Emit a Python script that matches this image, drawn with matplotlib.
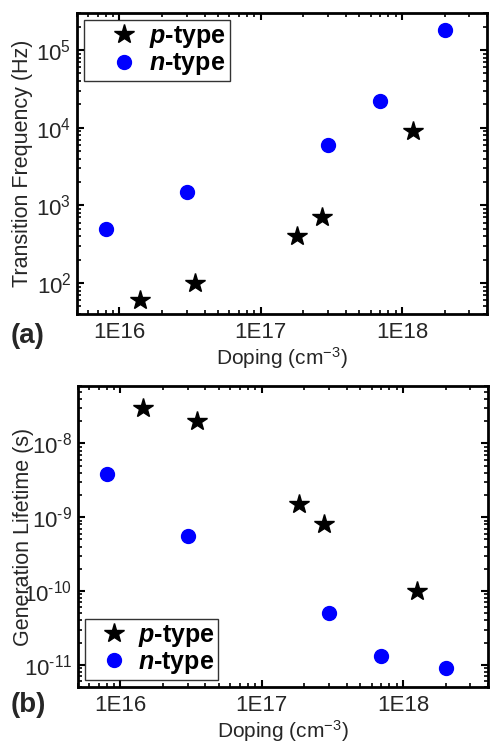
import numpy as np
import matplotlib
matplotlib.use("Agg")
import matplotlib.pyplot as plt
from matplotlib.ticker import LogLocator, NullFormatter, FuncFormatter

plt.rcParams['font.family'] = ['Liberation Sans', 'DejaVu Sans']
plt.rcParams['font.sans-serif'] = ['Liberation Sans']
plt.rcParams['mathtext.fontset'] = 'custom'
plt.rcParams['mathtext.rm'] = 'Liberation Sans'
plt.rcParams['mathtext.it'] = 'Liberation Sans:italic'
plt.rcParams['mathtext.bf'] = 'Liberation Sans:bold'
plt.rcParams['mathtext.bfit'] = 'Liberation Sans:italic:bold'

TXT = '#262626'

# transition frequency vs doping
p_dop_a = [1.4e16, 3.4e16, 1.8e17, 2.7e17, 1.2e18]
p_freq = [60, 100, 400, 700, 9000]
n_dop_a = [8e15, 3e16, 3e17, 7e17, 2e18]
n_freq = [500, 1500, 6000, 22000, 1.8e5]

# generation lifetime vs doping
p_dop_b = [1.45e16, 3.5e16, 1.85e17, 2.75e17, 1.25e18]
p_life = [3e-8, 2e-8, 1.5e-9, 8e-10, 1e-10]
n_dop_b = [8e15, 3e16, 3e17, 7e17, 2e18]
n_life = [3.8e-9, 5.5e-10, 5e-11, 1.3e-11, 9e-12]

xticks = [1e16, 1e17, 1e18]
xticklabels = ['1E16', '1E17', '1E18']


def pow10(v, pos):
    # short hyphen in the exponent instead of the math minus
    e = int(round(np.log10(v)))
    if e < 0:
        return r'$\mathregular{10^{\text{-}%d}}$' % (-e)
    return r'$\mathregular{10^{%d}}$' % e


fig = plt.figure(figsize=(4.9, 7.47), dpi=100)
ax_a = fig.add_axes([0.157, 0.5797, 0.837, 0.403])
ax_b = fig.add_axes([0.159, 0.0803, 0.837, 0.403])


def style(ax, ylim, ylabel):
    ax.set_xscale('log')
    ax.set_yscale('log')
    ax.set_xlim(5e15, 4e18)
    ax.set_ylim(*ylim)
    ax.set_xticks(xticks)
    ax.set_xticklabels(xticklabels)
    ax.xaxis.set_minor_locator(LogLocator(base=10, subs=np.arange(2, 10)))
    ax.xaxis.set_minor_formatter(NullFormatter())
    ax.yaxis.set_major_locator(LogLocator(base=10, numticks=20))
    ax.yaxis.set_major_formatter(FuncFormatter(pow10))
    ax.yaxis.set_minor_locator(LogLocator(base=10, subs=np.arange(2, 10), numticks=20))
    ax.yaxis.set_minor_formatter(NullFormatter())
    ax.tick_params(which='both', direction='in', top=True, right=True,
                   colors='black', labelcolor=TXT, labelsize=16)
    ax.tick_params(axis='x', which='major', pad=6)
    ax.tick_params(axis='y', which='major', pad=4)
    ax.tick_params(which='major', length=5, width=1.5)
    ax.tick_params(which='minor', length=3, width=1.2)
    for s in ax.spines.values():
        s.set_linewidth(2)
    ax.set_xlabel(r'Doping (cm$^{-3}$)', fontsize=15, color=TXT, labelpad=1)
    ax.set_ylabel(ylabel, fontsize=15.5, color=TXT)
    # same label column for both panels, even where tick labels are wider
    ax.yaxis.set_label_coords(-0.108, 0.5)


def add_legend(ax, loc, hl, htp):
    leg = ax.legend(loc=loc, fancybox=False, edgecolor='black',
                    prop={'weight': 'bold', 'size': 18}, handletextpad=htp,
                    handlelength=hl, borderaxespad=0.3, borderpad=0.15,
                    labelspacing=0.05)
    leg.get_frame().set_linewidth(1)
    return leg


style(ax_a, (40, 3e5), 'Transition Frequency (Hz)')
ax_a.plot(p_dop_a, p_freq, linestyle='none', marker='*', ms=15, color='black',
          label=r'$\mathbfit{p}$-type')
ax_a.plot(n_dop_a, n_freq, linestyle='none', marker='o', ms=10, color='#0000ff',
          label=r'$\mathbfit{n}$-type')
add_legend(ax_a, 'upper left', 2.9, -0.45)

style(ax_b, (5e-12, 6e-8), 'Generation Lifetime (s)')
ax_b.plot(p_dop_b, p_life, linestyle='none', marker='*', ms=15, color='black',
          label=r'$\mathbfit{p}$-type')
ax_b.plot(n_dop_b, n_life, linestyle='none', marker='o', ms=10, color='#0000ff',
          label=r'$\mathbfit{n}$-type')
add_legend(ax_b, 'lower left', 1.95, 0.0)

fig.text(0.022, 0.541, '(a)', fontsize=20, fontweight='bold', color=TXT, va='baseline')
fig.text(0.022, 0.047, '(b)', fontsize=20, fontweight='bold', color=TXT, va='baseline')

fig.savefig('out.png', dpi=100)
